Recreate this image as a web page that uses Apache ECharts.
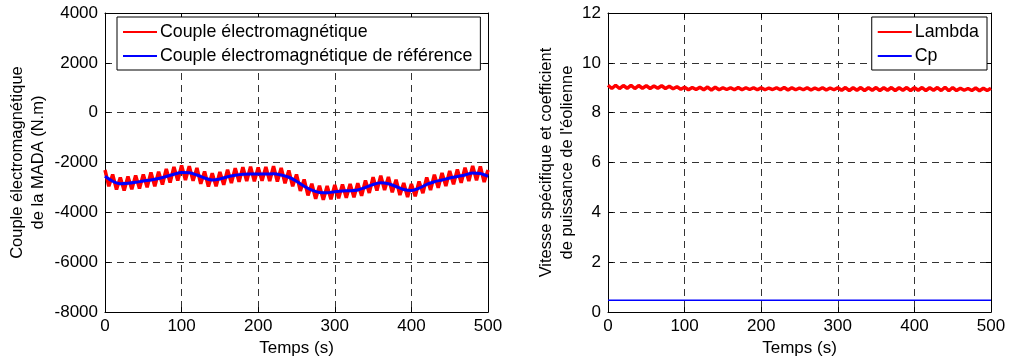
<!DOCTYPE html>
<html>
<head>
<meta charset="utf-8">
<script src="https://cdn.jsdelivr.net/npm/echarts@6/dist/echarts.min.js"></script>
<style>
  html, body { margin: 0; padding: 0; background: #fff; }
  #chart { width: 1010px; height: 362px; }
</style>
</head>
<body>
<div id="chart"></div>
<script>
// time axis (s)
var tBlue = [];   // every 10 s
for (var i = 0; i <= 500; i += 10) tBlue.push(i);
var tRed = [];    // every 5 s
for (var j = 0; j <= 500; j += 5) tRed.push(j);

// reference electromagnetic torque (N.m), read every 10 s
var coupleRef = [
  -2550, -2750, -2850, -2830, -2790, -2740, -2700, -2640, -2560, -2470,
  -2400, -2410, -2500, -2620, -2700, -2660, -2570, -2510, -2470, -2460,
  -2460, -2460, -2450, -2500, -2590, -2750, -2950, -3110, -3200, -3210,
  -3170, -3140, -3130, -3100, -3000, -2880, -2810, -2850, -2960, -3080,
  -3120, -3030, -2880, -2770, -2700, -2620, -2560, -2500, -2420, -2440,
  -2550
];

// measured torque (noisy band), read every 5 s as upper / lower extremes
var couple = [
  -2300, -2950, -2480, -3080, -2600, -3120, -2560, -3070, -2520, -3040,
  -2480, -2990, -2400, -2950, -2370, -2880, -2260, -2800, -2180, -2720,
  -2120, -2700, -2150, -2730, -2220, -2850, -2360, -2960, -2430, -2950,
  -2380, -2890, -2290, -2820, -2230, -2770, -2190, -2740, -2170, -2750,
  -2200, -2730, -2180, -2740, -2150, -2760, -2220, -2830, -2320, -2950,
  -2480, -3140, -2680, -3320, -2850, -3450, -2930, -3490, -2940, -3470,
  -2900, -3430, -2880, -3410, -2860, -3390, -2830, -3330, -2720, -3220,
  -2590, -3120, -2530, -3100, -2580, -3190, -2690, -3300, -2820, -3380,
  -2860, -3350, -2760, -3230, -2600, -3100, -2490, -3010, -2420, -2940,
  -2340, -2870, -2280, -2810, -2210, -2740, -2140, -2710, -2160, -2780,
  -2300
];

// tip speed ratio, read every 5 s
var lambda = [
  9.10, 8.97, 9.10, 8.97, 9.09, 8.98, 9.10, 8.97, 9.09, 8.98,
  9.08, 8.97, 9.07, 8.98, 9.08, 8.97, 9.06, 8.96, 9.04, 8.94,
  9.02, 8.92, 9.01, 8.93, 9.02, 8.92, 9.03, 8.91, 9.02, 8.92,
  9.00, 8.93, 9.00, 8.92, 9.01, 8.92, 9.00, 8.93, 9.00, 8.92,
  9.00, 8.92, 8.99, 8.93, 9.00, 8.92, 9.01, 8.91, 9.00, 8.92,
  8.99, 8.92, 9.00, 8.91, 8.99, 8.92, 9.00, 8.91, 8.99, 8.92,
  9.00, 8.90, 9.01, 8.89, 9.00, 8.90, 9.01, 8.89, 9.00, 8.90,
  9.01, 8.89, 9.00, 8.90, 9.01, 8.89, 9.00, 8.90, 9.01, 8.89,
  9.00, 8.90, 9.01, 8.89, 9.00, 8.90, 9.01, 8.89, 9.02, 8.88,
  9.01, 8.89, 8.98, 8.90, 8.97, 8.89, 8.99, 8.88, 8.98, 8.89,
  8.98
];

// power coefficient
var cp = [0.48, 0.48];
var tCp = [0, 500];

var xTicks = { min: 0, max: 500, interval: 100 };
var yLeftTicks = { min: -8000, max: 4000, interval: 2000 };
var yRightTicks = { min: 0, max: 12, interval: 2 };

function zip(xs, ys) {
  return xs.map(function (x, k) { return [x, ys[k]]; });
}

var font = 'Arial, "Liberation Sans", sans-serif';
var fs = 17;
var gridLine = { show: true, lineStyle: { color: '#333', type: [7, 5], width: 1 } };
var axisLine = { show: true, onZero: false, lineStyle: { color: '#000', width: 1 } };
var tick = { show: true, inside: true, length: 5, lineStyle: { color: '#000' } };
var plain = function (v) { return String(v); };

function xAxisMain(gi) {
  return {
    type: 'value', gridIndex: gi, min: xTicks.min, max: xTicks.max, interval: xTicks.interval,
    name: 'Temps (s)', nameLocation: 'middle', nameGap: 26,
    nameTextStyle: { color: '#000', fontSize: fs, fontFamily: font },
    axisLine: axisLine, axisTick: tick, splitLine: gridLine,
    axisLabel: { color: '#000', fontSize: fs, fontFamily: font, margin: 6, formatter: plain }
  };
}
function xAxisTop(gi) {
  return {
    type: 'value', gridIndex: gi, position: 'top', min: xTicks.min, max: xTicks.max, interval: xTicks.interval,
    axisLine: axisLine, axisTick: tick, splitLine: { show: false }, axisLabel: { show: false }
  };
}
function yAxisMain(gi, t, name, gap) {
  return {
    type: 'value', gridIndex: gi, min: t.min, max: t.max, interval: t.interval,
    name: name, nameLocation: 'middle', nameGap: gap,
    nameTextStyle: { color: '#000', fontSize: 16.5, fontFamily: font, lineHeight: 21 },
    axisLine: axisLine, axisTick: tick, splitLine: gridLine,
    axisLabel: { color: '#000', fontSize: fs, fontFamily: font, margin: 7, formatter: plain }
  };
}
function yAxisRight(gi, t) {
  return {
    type: 'value', gridIndex: gi, position: 'right', min: t.min, max: t.max, interval: t.interval,
    axisLine: axisLine, axisTick: tick, splitLine: { show: false }, axisLabel: { show: false }
  };
}

var legendBase = {
  top: 17, orient: 'vertical', itemGap: 6,
  padding: [6, 8, 5, 6],
  borderColor: '#000', borderWidth: 1, backgroundColor: '#fff',
  itemWidth: 34, itemHeight: 2, icon: 'rect',
  textStyle: { color: '#000', fontSize: 17.8, fontFamily: font, padding: [0, 0, 0, -2] }
};

var chart = echarts.init(document.getElementById('chart'));
chart.setOption({
  animation: false,
  backgroundColor: '#fff',
  grid: [
    { left: 105, top: 13, width: 383, height: 300 },
    { left: 608, top: 13, width: 383, height: 300 }
  ],
  xAxis: [xAxisMain(0), xAxisTop(0), xAxisMain(1), xAxisTop(1)],
  yAxis: [
    yAxisMain(0, yLeftTicks, 'Couple électromagnétique\nde la MADA (N.m)', 56),
    yAxisRight(0, yLeftTicks),
    yAxisMain(1, yRightTicks, 'Vitesse spécifique et coefficient\nde puissance de l\'éolienne', 30),
    yAxisRight(1, yRightTicks)
  ],
  legend: [
    Object.assign({}, legendBase, {
      left: 117,
      data: ['Couple électromagnétique', 'Couple électromagnétique de référence']
    }),
    Object.assign({}, legendBase, {
      right: 23,
      data: ['Lambda', 'Cp']
    })
  ],
  series: [
    {
      name: 'Couple électromagnétique', type: 'line', xAxisIndex: 0, yAxisIndex: 0,
      data: zip(tRed, couple), showSymbol: false, color: '#ff0000',
      lineStyle: { color: '#ff0000', width: 3.5 }
    },
    {
      name: 'Couple électromagnétique de référence', type: 'line', xAxisIndex: 0, yAxisIndex: 0,
      data: zip(tBlue, coupleRef), showSymbol: false, smooth: 0.3, color: '#0000ff',
      lineStyle: { color: '#0000ff', width: 3 }
    },
    {
      name: 'Lambda', type: 'line', xAxisIndex: 2, yAxisIndex: 2,
      data: zip(tRed, lambda), showSymbol: false, color: '#ff0000',
      lineStyle: { color: '#ff0000', width: 3.5 }
    },
    {
      name: 'Cp', type: 'line', xAxisIndex: 2, yAxisIndex: 2,
      data: zip(tCp, cp), showSymbol: false, color: '#0000ff',
      lineStyle: { color: '#0000ff', width: 1.5 }
    }
  ]
});
</script>
</body>
</html>
